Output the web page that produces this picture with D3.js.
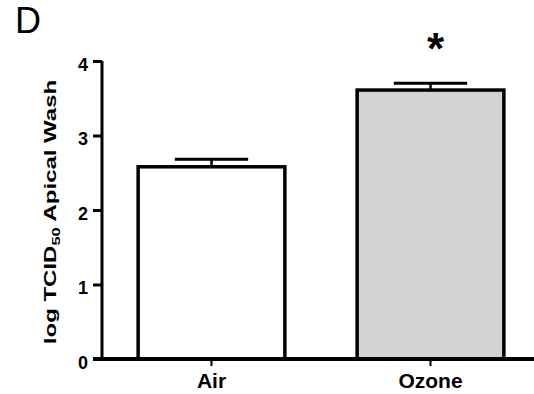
<!DOCTYPE html>
<html><head><meta charset="utf-8">
<script src="https://cdn.jsdelivr.net/npm/d3@7/dist/d3.min.js"></script>
<style>body{margin:0;background:#fff}svg{display:block}</style>
</head><body>
<script>
const categories = ["Air", "Ozone"];
const means = [2.58, 3.61];
const sems = [0.10, 0.09];
const fills = ["#ffffff", "#d3d3d3"];
const yTicks = [0, 1, 2, 3, 4];
const significance = ["", "*"];

const FONT = "Arial, 'Liberation Sans', sans-serif";
const W = 534, H = 394;
const svg = d3.select("body").append("svg").attr("width", W).attr("height", H)
  .attr("font-family", FONT);

const y = d3.scaleLinear().domain([0, 4]).range([359, 61]);
const x = d3.scaleBand().domain(categories).range([102, 540]).paddingInner(0.33).paddingOuter(0.165);

// bars
svg.selectAll("rect.bar").data(categories).enter().append("rect")
  .attr("class", "bar")
  .attr("x", d => x(d)).attr("y", (d, i) => y(means[i]))
  .attr("width", x.bandwidth()).attr("height", (d, i) => y(0) - y(means[i]))
  .attr("fill", (d, i) => fills[i]).attr("stroke", "#000").attr("stroke-width", 3.5);

// error bars
categories.forEach((c, i) => {
  const cx = x(c) + x.bandwidth() / 2;
  const cw = x.bandwidth() / 4;
  svg.append("line").attr("x1", cx).attr("x2", cx).attr("y1", y(means[i])).attr("y2", y(means[i] + sems[i]))
    .attr("stroke", "#000").attr("stroke-width", 2.5);
  svg.append("line").attr("x1", cx - cw).attr("x2", cx + cw).attr("y1", y(means[i] + sems[i])).attr("y2", y(means[i] + sems[i]))
    .attr("stroke", "#000").attr("stroke-width", 3);
  if (significance[i]) {
    svg.append("text").attr("x", cx + 5).attr("y", 64).attr("text-anchor", "middle")
      .attr("font-size", 44).attr("font-weight", "bold").text(significance[i]);
  }
});

// y axis
const yAxis = svg.append("g").attr("transform", "translate(102,0)")
  .call(d3.axisLeft(y).tickValues(yTicks).tickFormat(d3.format("d")).tickSize(9).tickPadding(5));
yAxis.attr("font-family", FONT);
yAxis.select(".domain").attr("stroke-width", 3).attr("d", `M0,${y(4)}V${y(0)}`);
yAxis.selectAll(".tick line").attr("stroke-width", 3);
yAxis.selectAll(".tick text").attr("font-size", 18).attr("font-weight", "bold").attr("fill", "#000")
  .attr("dy", "0.5em");

// x axis
const xAxis = svg.append("g").attr("transform", `translate(0,${y(0)})`)
  .call(d3.axisBottom(x).tickSize(7).tickPadding(7).tickSizeOuter(0));
xAxis.attr("font-family", FONT);
xAxis.select(".domain").attr("stroke-width", 4).attr("d", `M93,0H534`);
xAxis.selectAll(".tick line").attr("stroke-width", 2);
xAxis.selectAll(".tick text").attr("font-size", 21).attr("font-weight", "bold").attr("fill", "#000");

// y label
const yl = svg.append("text").attr("transform", "translate(56,212) rotate(-90) scale(1.5,1)")
  .attr("text-anchor", "middle").attr("font-size", 16).attr("font-weight", "bold");
yl.append("tspan").text("log TCID");
yl.append("tspan").attr("font-size", 11).attr("dy", 4).text("50");
yl.append("tspan").attr("dy", -4).text(" Apical Wash");

// panel letter
svg.append("text").attr("x", 15).attr("y", 33).attr("font-size", 36).text("D");
</script>
</body></html>
